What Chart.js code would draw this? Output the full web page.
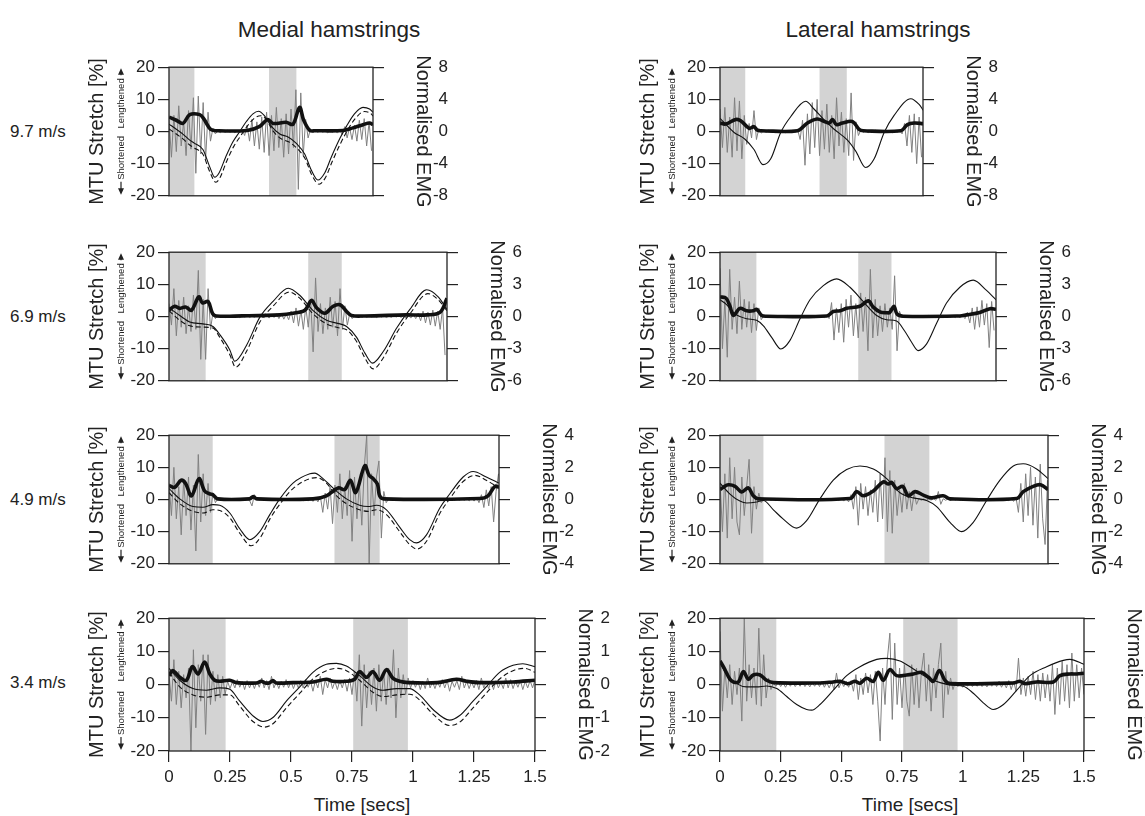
<!DOCTYPE html>
<html>
<head>
<meta charset="utf-8">
<script src="https://cdn.jsdelivr.net/npm/chart.js@4.4.1/dist/chart.umd.min.js"></script>
<style>
  body { margin: 0; background: #fff; width: 1145px; height: 816px; position: relative; overflow: hidden;
         font-family: "Liberation Sans", Arial, Helvetica, sans-serif; color: #222; }
  canvas { position: absolute; }
  .lbl { position: absolute; white-space: nowrap; }
</style>
</head>
<body>
<div class="lbl" style="left:329px;top:30px;font-size:22.5px;transform:translate(-50%,-50%)">Medial hamstrings</div>
<div class="lbl" style="left:878px;top:30px;font-size:22.5px;transform:translate(-50%,-50%)">Lateral hamstrings</div>
<div class="lbl" style="left:362px;top:805px;font-size:19px;transform:translate(-50%,-50%)">Time [secs]</div>
<div class="lbl" style="left:910px;top:805px;font-size:19px;transform:translate(-50%,-50%)">Time [secs]</div>
<script>
// ---- data ----
const speeds = ["9.7 m/s", "6.9 m/s", "4.9 m/s", "3.4 m/s"];
const rowDuration = [0.836, 1.138, 1.352, 1.5];
const emgLimit = [8, 6, 4, 2];
const timeTicks = [0, 0.25, 0.5, 0.75, 1, 1.25, 1.5];
const shadeRows = [
  [[0, 0.104], [0.41, 0.522]],
  [[0, 0.15], [0.57, 0.707]],
  [[0, 0.179], [0.678, 0.863]],
  [[0, 0.232], [0.755, 0.979]]
];
const rawStep = 0.01; // raw EMG sampled every 10 ms

// 9.7 m/s
const medial97Solid = [[0,2.3],[0.03,0.7],[0.057,-0.8],[0.085,-2.7],[0.105,-3.7],[0.139,-5.6],[0.167,-11],[0.187,-14.2],[0.205,-12.9],[0.232,-8],[0.262,-3.2],[0.29,0],[0.317,3.1],[0.344,5.5],[0.367,6.3],[0.39,5],[0.42,1.6],[0.454,-0.8],[0.488,-1.7],[0.522,-3.7],[0.556,-7],[0.583,-12],[0.61,-15.1],[0.638,-12.9],[0.665,-8],[0.7,-2.2],[0.727,1.6],[0.76,5.5],[0.795,7.5],[0.822,7],[0.836,6]];
const medial97Dashed = [[0,0.8],[0.03,-0.8],[0.057,-2.3],[0.085,-4.2],[0.105,-5.2],[0.139,-7.1],[0.167,-12.5],[0.192,-15.8],[0.21,-14.2],[0.235,-9.5],[0.265,-4.7],[0.295,-1.2],[0.32,1.6],[0.348,4],[0.375,4.9],[0.398,3.8],[0.425,0.3],[0.458,-2.2],[0.49,-3.2],[0.524,-5.2],[0.558,-8.5],[0.585,-13.5],[0.615,-16.4],[0.642,-14.2],[0.668,-9.5],[0.703,-3.7],[0.73,0.2],[0.763,4],[0.8,6.2],[0.825,5.7],[0.836,4.8]];
const medial97Env = [[0,1.8],[0.03,1.4],[0.057,1.0],[0.085,2.1],[0.126,2.1],[0.142,1.6],[0.17,0.27],[0.19,0.1],[0.32,0.12],[0.37,0.6],[0.405,1.5],[0.426,1.0],[0.48,1.15],[0.508,0.9],[0.535,3.0],[0.552,1.4],[0.577,0.15],[0.6,0.1],[0.713,0.12],[0.754,0.45],[0.795,0.85],[0.822,1.05],[0.836,0.85]];
const medial97Raw = [1.5,-3.2,2.0,-2.5,3.2,-1.8,1.2,-3.0,2.6,-2.2,4.2,-5.2,4.4,-2.8,3.6,-3.5,2.4,-1.2,0.4,-0.3,
  0.1,-0.15,0.1,-0.1,0.15,-0.1,0.1,-0.15,0.1,-0.1,0.2,
  -0.5,0.8,-1.2,1.5,-1.8,1.2,-2.2,1.8,-2.6,2.4,-3.0,2.0,-2.4,3.0,-2.0,1.6,-3.2,2.2,-2.8,2.8,-2.0,5.2,-7.2,4.8,-3.0,1.5,-0.8,0.3,
  -0.15,0.1,-0.1,0.15,-0.1,0.1,-0.15,0.1,-0.1,0.15,-0.2,0.2,
  -0.4,0.6,-0.8,0.5,-1.0,0.8,-1.2,1.4,-1.0,1.6,-1.8,1.2,-2.4];
const lateral97Solid = [[0,4.1],[0.058,-0.3],[0.103,-2.4],[0.14,-5.6],[0.177,-10.3],[0.209,-8.5],[0.25,-0.3],[0.291,4.6],[0.353,9.4],[0.387,7],[0.429,3.6],[0.47,0.7],[0.525,-2.7],[0.559,-6.1],[0.6,-11.2],[0.635,-8.5],[0.676,-0.3],[0.717,5],[0.786,10.2],[0.82,8.4],[0.838,6.5]];
const lateral97Env = [[0,1.05],[0.023,0.93],[0.065,1.5],[0.085,1.35],[0.12,0.4],[0.14,0.6],[0.154,0.15],[0.17,0.1],[0.319,0.1],[0.36,1.05],[0.40,1.55],[0.43,1.25],[0.45,1.05],[0.463,1.5],[0.48,0.85],[0.504,1.05],[0.545,1.25],[0.573,0.27],[0.59,0.1],[0.745,0.1],[0.772,0.85],[0.8,1.05],[0.838,0.97]];
const lateral97Raw = [2.8,-2.0,3.0,-2.6,1.8,-3.2,4.2,-2.4,3.8,-3.4,2.0,-1.6,1.0,-0.8,2.6,-1.0,0.4,-0.2,
  0.1,-0.1,0.15,-0.1,0.1,-0.15,0.1,-0.1,0.1,-0.15,0.1,-0.1,0.15,-0.1,0.2,
  -1.0,1.4,-4.2,2.2,-2.8,3.6,-2.0,4.0,-3.0,2.6,-2.2,3.4,-2.6,2.0,-3.4,4.2,-1.8,2.4,-2.6,1.6,-3.0,4.8,-3.6,1.2,-0.5,
  0.2,-0.1,0.1,-0.15,0.1,-0.1,0.15,-0.1,0.1,-0.1,0.15,-0.1,0.1,-0.15,0.1,-0.1,0.2,-0.3,
  1.0,-1.8,2.0,-2.6,2.2,-4.0,1.8,-3.2];

// 6.9 m/s
const medial69Solid = [[0,2.7],[0.044,0.3],[0.085,-1.7],[0.139,-2.3],[0.18,-3.1],[0.208,-5.6],[0.249,-10.4],[0.269,-13.9],[0.317,-9],[0.372,-0.2],[0.426,4.7],[0.488,8.8],[0.535,6.6],[0.59,1.8],[0.645,-1.2],[0.7,-2.3],[0.727,-3.1],[0.768,-6.5],[0.802,-11.4],[0.833,-14.5],[0.877,-10.9],[0.932,-3.6],[0.986,2.2],[1.055,8.3],[1.102,6.1],[1.138,2.2]];
const medial69Dashed = [[0,1.8],[0.044,-1.2],[0.085,-2.9],[0.139,-3.3],[0.18,-3.6],[0.208,-6.5],[0.249,-11.9],[0.273,-15.8],[0.317,-10.9],[0.372,-1.7],[0.426,3.2],[0.492,7.6],[0.535,5.7],[0.59,0.8],[0.645,-2.3],[0.7,-3.6],[0.727,-4.1],[0.768,-7.8],[0.802,-12.9],[0.836,-16.3],[0.877,-12.9],[0.932,-5.1],[0.986,0.8],[1.06,7.1],[1.102,5.2],[1.138,1.8]];
const medial69Env = [[0,0.58],[0.023,0.96],[0.044,0.76],[0.068,0.88],[0.092,0.58],[0.122,1.84],[0.137,1.26],[0.16,1.4],[0.178,0.3],[0.194,0.05],[0.3,0.06],[0.454,0.15],[0.508,0.3],[0.556,0.58],[0.583,1.5],[0.604,0.82],[0.638,0.3],[0.672,0.96],[0.7,1.1],[0.727,0.47],[0.747,0.1],[0.8,0.05],[0.973,0.15],[1.055,0.15],[1.109,0.38],[1.138,1.7]];
const medial69Raw = [1.2,-0.8,2.6,-1.8,1.5,-1.0,1.8,-1.6,1.0,-1.4,2.0,-1.2,4.3,-4.0,1.6,-4.0,2.6,-1.2,0.4,-0.2,
  0.1,-0.05,0.08,-0.1,0.05,-0.08,0.1,-0.05,0.08,-0.1,0.1,-0.05,0.08,-0.1,0.05,-0.08,0.1,-0.05,0.08,-0.1,0.1,-0.15,0.2,-0.1,0.25,-0.2,0.3,-0.25,0.2,-0.3,
  0.5,-0.6,0.8,-0.9,0.6,-1.2,0.9,-1.0,1.6,-3.3,3.6,-1.4,1.2,-1.6,0.8,-1.2,1.8,-1.0,1.4,-1.8,2.6,-1.2,1.0,-0.8,0.3,-0.2,
  0.1,-0.05,0.08,-0.1,0.05,-0.08,0.1,-0.05,0.08,-0.1,0.1,-0.05,0.08,-0.1,0.05,-0.08,0.1,-0.05,0.1,-0.1,0.1,-0.15,0.1,-0.15,0.2,-0.2,
  0.3,-0.4,0.5,-0.6,0.4,-0.8,0.6,-0.9,0.5,-1.2,0.8,-3.6];
const lateral69Solid = [[0,5.2],[0.027,3.7],[0.062,0.8],[0.11,-0.7],[0.151,-1.2],[0.179,-2.9],[0.213,-6.5],[0.251,-10.1],[0.288,-7.5],[0.33,-0.7],[0.371,5.2],[0.426,9.6],[0.481,11.7],[0.536,9.1],[0.59,4.7],[0.646,0.3],[0.687,-1],[0.728,-1.4],[0.762,-4.6],[0.79,-8],[0.817,-10.6],[0.852,-8.5],[0.893,-2.1],[0.934,4.2],[0.989,9.1],[1.044,11.3],[1.099,8.1],[1.138,5.2]];
const lateral69Env = [[0,1.84],[0.025,1.7],[0.041,0.96],[0.055,0.1],[0.082,0.76],[0.11,0.53],[0.137,0.53],[0.151,0.67],[0.172,0.1],[0.19,0.03],[0.44,0.05],[0.467,0.47],[0.495,0.53],[0.522,0.76],[0.577,0.96],[0.611,1.46],[0.632,0.88],[0.659,0.44],[0.687,0.35],[0.70,0.38],[0.717,0.96],[0.73,0.23],[0.755,0.03],[0.989,0.05],[1.016,0.15],[1.071,0.38],[1.113,0.73],[1.138,0.67]];
const lateral69Raw = [4.5,-3.0,1.5,-3.8,4.4,-1.2,1.8,-1.6,3.3,-1.2,1.6,-1.0,1.4,-1.5,1.2,-1.3,0.8,-0.3,
  0.05,-0.05,0.08,-0.05,0.05,-0.08,0.05,-0.05,0.08,-0.05,0.1,-0.05,0.05,-0.1,0.08,-0.05,0.05,-0.08,0.05,-0.05,0.08,-0.1,0.1,-0.05,0.1,-0.1,0.15,-0.2,
  1.3,-2.2,0.8,-1.5,1.2,-2.4,1.6,-1.0,2.0,-1.8,1.2,-2.0,2.2,-1.4,1.8,-3.2,4.4,-2.0,1.6,-1.8,1.0,-1.4,1.2,-1.0,0.8,-1.2,3.8,-3.2,0.5,
  -0.1,0.05,-0.05,0.08,-0.05,0.05,-0.08,0.05,-0.05,0.08,-0.05,0.1,-0.05,0.05,-0.1,0.08,-0.05,0.05,-0.08,0.05,-0.05,0.08,-0.1,0.1,-0.1,0.15,-0.2,
  0.4,-0.6,0.8,-1.2,0.9,-1.0,1.5,-0.8,1.2,-2.9,1.4,-1.3];

// 4.9 m/s
const medial49Solid = [[0,3.4],[0.044,0.2],[0.098,-2.2],[0.139,-2.4],[0.18,-1.6],[0.208,-1.8],[0.249,-4.2],[0.29,-9.1],[0.331,-12.5],[0.372,-10],[0.413,-4.7],[0.454,0.2],[0.508,5.1],[0.577,8],[0.597,8.2],[0.631,6.5],[0.686,2.6],[0.727,0.2],[0.781,-1.8],[0.816,-2.2],[0.85,-1.8],[0.891,-3.2],[0.945,-8.6],[0.986,-12.5],[1.014,-13.5],[1.055,-11],[1.109,-2.7],[1.15,1.7],[1.205,7],[1.246,8.7],[1.3,7],[1.352,5.1]];
const medial49Dashed = [[0,2.1],[0.044,-1.3],[0.098,-3.7],[0.139,-4.2],[0.18,-3.2],[0.208,-3.4],[0.249,-5.7],[0.29,-10.5],[0.337,-14.4],[0.377,-11.5],[0.413,-6.1],[0.454,-1.5],[0.508,3.4],[0.604,6.8],[0.645,5.1],[0.686,1.2],[0.727,-1.3],[0.781,-3.2],[0.816,-3.7],[0.85,-3.2],[0.891,-4.7],[0.945,-10],[0.986,-14],[1.016,-15.4],[1.055,-13],[1.109,-4.4],[1.15,0.2],[1.205,5.6],[1.253,7.5],[1.3,6],[1.352,3.6]];
const medial49Env = [[0,0.88],[0.023,0.76],[0.05,1.2],[0.068,1.0],[0.092,0.23],[0.123,1.3],[0.146,0.53],[0.171,0.33],[0.18,0.3],[0.2,0.04],[0.33,0.04],[0.345,0.18],[0.36,0.04],[0.59,0.04],[0.645,0.23],[0.693,0.72],[0.72,0.62],[0.743,1.2],[0.765,0.43],[0.802,2.1],[0.82,1.5],[0.836,1.3],[0.854,0.96],[0.863,0.23],[0.88,0.04],[1.273,0.06],[1.307,0.23],[1.335,0.82],[1.352,0.76]];
const medial49Raw = [1.0,-1.0,2.0,-1.2,0.8,-2.2,1.2,-1.0,1.4,-1.9,0.9,-3.2,2.8,-1.4,1.6,-1.0,1.0,-0.8,0.4,-0.2,
  0.05,-0.05,0.04,-0.06,0.05,-0.04,0.06,-0.05,0.04,-0.05,0.05,-0.05,0.04,-0.06,-0.4,0.3,0.05,-0.04,0.06,-0.05,0.04,-0.05,0.05,-0.05,0.04,-0.06,0.05,-0.04,0.06,-0.05,0.04,-0.05,0.05,-0.05,0.06,-0.08,0.08,-0.1,0.1,-0.12,0.15,-0.15,0.2,-0.8,
  0.4,-0.6,0.8,-1.5,0.9,-0.8,1.6,-1.2,0.8,-1.0,1.8,-2.6,1.4,-1.2,1.0,-1.6,2.0,4.0,-4.0,1.6,-1.0,1.4,2.4,-2.4,0.5,-0.2,
  0.05,-0.05,0.04,-0.06,0.05,-0.04,0.06,-0.05,0.04,-0.05,0.05,-0.05,0.04,-0.06,0.05,-0.04,0.06,-0.05,0.04,-0.05,0.05,-0.05,0.04,-0.06,0.05,-0.04,0.06,-0.05,0.04,-0.05,0.05,-0.05,0.06,-0.08,0.1,-0.1,0.15,-0.2,
  0.3,-0.5,0.6,-0.4,0.8,-1.4,0.5,1.6];
const lateral49Solid = [[0,5.1],[0.041,1.7],[0.082,-0.5],[0.11,-1.1],[0.151,-0.8],[0.179,-0.3],[0.22,-3.2],[0.261,-6.1],[0.316,-8.9],[0.357,-6.6],[0.412,0.2],[0.467,6],[0.522,9.3],[0.577,10.4],[0.632,9.5],[0.687,6.5],[0.742,2.1],[0.797,0.5],[0.852,-0.3],[0.893,-2.2],[0.948,-7.1],[0.996,-10],[1.044,-7.1],[1.099,-0.3],[1.154,6],[1.209,10.4],[1.25,11.1],[1.305,9.5],[1.352,6.5]];
const lateral49Env = [[0,0.62],[0.014,0.76],[0.034,0.92],[0.062,0.82],[0.089,0.47],[0.117,0.72],[0.137,0.23],[0.158,0.04],[0.536,0.06],[0.563,0.49],[0.59,0.23],[0.632,0.53],[0.673,1.1],[0.694,0.96],[0.707,1.07],[0.728,0.68],[0.753,0.82],[0.776,0.23],[0.804,0.49],[0.838,0.27],[0.872,0.1],[0.92,0.23],[0.948,0.04],[1.223,0.06],[1.25,0.49],[1.291,0.82],[1.321,0.92],[1.352,0.62]];
const lateral49Raw = [1.2,-2.0,1.6,-2.4,2.6,-1.2,2.0,-1.4,-2.2,1.4,-1.0,0.8,2.5,-2.1,0.8,-0.6,0.4,-0.2,
  0.04,-0.04,0.05,-0.05,0.04,-0.06,0.05,-0.04,0.04,-0.05,0.05,-0.04,0.06,-0.05,0.04,-0.04,0.05,-0.05,0.04,-0.06,0.05,-0.04,0.04,-0.05,0.05,-0.04,0.06,-0.05,0.04,-0.04,0.05,-0.06,0.08,-0.1,0.1,-0.15,
  0.3,-0.6,0.8,-1.6,1.0,-0.6,0.8,-1.0,0.6,-0.8,1.2,-1.4,1.6,-1.2,2.6,-2.0,1.8,-2.1,1.2,-1.0,0.6,-0.8,1.0,-0.6,0.5,-0.7,0.4,-0.3,
  0.05,-0.05,0.04,-0.06,0.05,-0.04,0.06,-0.05,0.5,-0.3,0.05,-0.05,0.04,-0.06,0.05,-0.04,0.06,-0.05,0.04,-0.05,0.05,-0.05,0.04,-0.06,0.05,-0.04,0.06,-0.05,0.04,-0.05,0.05,-0.05,0.04,-0.06,0.05,-0.04,0.06,-0.08,0.1,-0.12,0.15,
  -0.8,1.0,-1.4,1.6,-1.0,2.0,-1.6,1.4,-2.4,2.2,-1.2,-2.8,1.2];

// 3.4 m/s
const medial34Solid = [[0,4.9],[0.044,1.3],[0.098,-1.2],[0.153,-1.7],[0.208,-1],[0.249,-1.4],[0.29,-5],[0.344,-9.4],[0.385,-11.1],[0.426,-9.9],[0.481,-5],[0.536,-0.7],[0.59,3.7],[0.645,6.1],[0.686,6.4],[0.727,5.6],[0.781,2.7],[0.836,-0.7],[0.877,-1.7],[0.932,-1.2],[0.986,-1.2],[1.027,-3.1],[1.082,-7.5],[1.15,-10.7],[1.19,-9.4],[1.246,-5],[1.3,-0.7],[1.355,3.7],[1.41,5.8],[1.45,6.3],[1.5,5.4]];
const medial34Dashed = [[0,3.7],[0.044,-0.7],[0.098,-3.1],[0.153,-3.8],[0.208,-3.1],[0.249,-3.1],[0.29,-6.5],[0.344,-11.1],[0.392,-12.8],[0.426,-11.8],[0.481,-7],[0.536,-2.6],[0.59,1.7],[0.645,4.2],[0.693,4.9],[0.727,4.2],[0.781,1.3],[0.836,-2.3],[0.877,-3.6],[0.932,-3.1],[0.986,-2.9],[1.027,-4.6],[1.082,-8.9],[1.15,-12.3],[1.19,-11.4],[1.246,-7],[1.3,-2.6],[1.355,1.7],[1.41,4.2],[1.458,4.9],[1.5,3.7]];
const medial34Env = [[0,0.27],[0.016,0.42],[0.044,0.22],[0.071,0.13],[0.096,0.54],[0.119,0.32],[0.146,0.68],[0.167,0.32],[0.187,0.13],[0.208,0.1],[0.249,0.13],[0.276,0.06],[0.36,0.05],[0.378,0.1],[0.395,0.05],[0.41,0.05],[0.426,0.12],[0.44,0.05],[0.508,0.06],[0.59,0.08],[0.645,0.16],[0.672,0.1],[0.727,0.1],[0.761,0.16],[0.781,0.39],[0.809,0.22],[0.836,0.39],[0.863,0.13],[0.891,0.45],[0.918,0.19],[0.945,0.1],[0.98,0.06],[1.1,0.06],[1.178,0.16],[1.219,0.1],[1.273,0.06],[1.41,0.08],[1.5,0.13]];
const medial34Raw = [0.3,-0.5,0.75,-0.6,0.4,-0.7,0.3,-0.4,0.5,-2.0,1.05,-1.3,0.6,-0.5,0.9,-1.5,0.9,-0.6,0.4,-0.5,0.3,-0.4,0.25,-0.3,
  0.1,-0.12,0.08,-0.1,0.15,-0.08,0.1,-0.15,0.12,-0.1,0.08,-0.12,0.1,-0.08,0.2,-0.1,0.12,-0.15,0.25,-0.1,0.08,-0.12,0.1,-0.08,0.15,-0.1,0.1,-0.12,0.08,-0.1,0.12,-0.1,0.15,-0.08,0.1,-0.2,0.12,-0.1,0.25,-0.3,0.15,-0.1,0.2,-0.12,0.1,-0.15,0.12,-0.1,0.15,-0.2,0.2,
  -0.3,0.4,-0.5,0.9,-1.25,0.6,-0.7,0.4,-0.6,0.5,-0.8,0.6,-0.5,0.4,-0.6,0.5,-0.4,1.05,-1.0,0.5,-0.4,0.3,-0.3,0.2,
  -0.1,0.12,-0.08,0.1,-0.15,0.1,-0.12,0.2,-0.1,0.08,-0.12,0.1,-0.08,0.15,-0.1,0.12,-0.2,0.1,-0.08,0.12,-0.15,0.25,-0.1,0.1,-0.12,0.08,-0.1,0.12,-0.15,0.2,-0.1,0.08,-0.12,0.1,-0.15,0.12,-0.1,0.08,-0.12,0.2,-0.1,0.15,-0.12,0.1,-0.08,0.12,-0.15,0.1,-0.1,0.12,-0.1,0.15];
const lateral34Solid = [[0,6.6],[0.027,3.2],[0.069,0.3],[0.11,-0.7],[0.151,-0.7],[0.192,-0.4],[0.234,-1.2],[0.275,-3.6],[0.316,-6],[0.357,-7.5],[0.378,-7.7],[0.412,-6],[0.467,-1.7],[0.522,2.7],[0.577,5.4],[0.646,7.6],[0.687,7.9],[0.742,7.1],[0.797,4.7],[0.852,2.2],[0.907,0.6],[0.962,-0.2],[1.003,-0.5],[1.044,-2.6],[1.085,-5.5],[1.126,-7.5],[1.168,-6],[1.223,-1.7],[1.277,2.7],[1.346,5.4],[1.415,7.3],[1.442,7.6],[1.5,6.1]];
const lateral34Env = [[0,0.71],[0.016,0.51],[0.041,0.16],[0.055,0.08],[0.076,0.08],[0.096,0.39],[0.117,0.16],[0.137,0.29],[0.165,0.29],[0.192,0.13],[0.22,0.06],[0.412,0.05],[0.467,0.08],[0.495,0.1],[0.522,0.03],[0.536,0.04],[0.556,0.1],[0.577,0.04],[0.604,0.19],[0.632,0.1],[0.652,0.37],[0.673,0.13],[0.7,0.45],[0.728,0.27],[0.769,0.29],[0.797,0.32],[0.831,0.37],[0.859,0.22],[0.879,0.1],[0.904,0.42],[0.927,0.13],[0.948,0.03],[1.209,0.05],[1.236,0.1],[1.257,0.03],[1.305,0.08],[1.374,0.08],[1.401,0.27],[1.442,0.32],[1.47,0.32],[1.5,0.34]];
const lateral34Raw = [1.6,-0.8,0.5,-0.4,0.6,-0.6,0.4,-0.3,0.5,-1.1,2.0,-0.5,0.6,-0.4,0.5,-0.6,1.7,-0.65,0.9,-0.4,0.2,-0.15,
  0.06,-0.05,0.08,-0.06,0.05,-0.08,0.06,-0.05,0.07,-0.06,0.05,-0.05,0.08,-0.06,0.05,-0.07,0.06,-0.05,0.08,-0.06,0.1,-0.08,0.06,-0.1,0.08,-0.15,0.35,-0.1,0.08,-0.06,0.1,-0.08,0.12,
  -0.2,0.3,-0.45,0.2,-0.3,0.35,-0.25,0.3,-0.6,0.4,-0.5,-1.7,0.5,-0.6,0.8,1.55,-1.05,1.25,-0.6,0.5,-0.7,0.6,-0.5,-0.95,0.6,-0.6,0.5,-0.7,0.4,0.95,-0.5,0.6,-0.8,0.5,-0.4,0.6,1.25,-1.0,0.4,-0.3,0.2,-0.15,
  0.08,-0.06,0.05,-0.08,0.06,-0.05,0.07,-0.06,0.05,-0.05,0.08,-0.06,0.05,-0.07,0.06,-0.05,0.08,-0.06,0.1,-0.08,0.06,-0.1,0.12,-0.15,0.1,
  -0.2,0.8,-0.3,0.2,-0.35,0.25,-0.3,0.4,-0.45,0.3,-0.5,0.35,-0.4,0.3,-0.5,0.6,-0.9,0.5,-0.6,0.7,-0.5,0.6,-0.7,0.95,-0.5,0.6,-0.4,0.5,-0.3];

// ---- layout ----
const plotTop = [63, 248, 431, 614];
const plotHeight = 137;
const columnAxisX = [169, 720];
const pxPerSec = [244, 242.7];
const leftW = 100, rightW = 75, padTop = 12;

const panels = [
  { col: 0, row: 0, solid: medial97Solid, dashed: medial97Dashed, env: medial97Env, raw: medial97Raw },
  { col: 1, row: 0, solid: lateral97Solid, env: lateral97Env, raw: lateral97Raw },
  { col: 0, row: 1, solid: medial69Solid, dashed: medial69Dashed, env: medial69Env, raw: medial69Raw },
  { col: 1, row: 1, solid: lateral69Solid, env: lateral69Env, raw: lateral69Raw },
  { col: 0, row: 2, solid: medial49Solid, dashed: medial49Dashed, env: medial49Env, raw: medial49Raw },
  { col: 1, row: 2, solid: lateral49Solid, env: lateral49Env, raw: lateral49Raw },
  { col: 0, row: 3, solid: medial34Solid, dashed: medial34Dashed, env: medial34Env, raw: medial34Raw },
  { col: 1, row: 3, solid: lateral34Solid, env: lateral34Env, raw: lateral34Raw }
];

Chart.defaults.font.family = '"Liberation Sans", Arial, Helvetica, sans-serif';
Chart.defaults.color = '#222';

const toPoints = (pairs) => pairs.map(([t, v]) => ({ x: t, y: v }));
const rawPoints = (vals) => vals.map((v, i) => ({ x: +(i * rawStep).toFixed(2), y: v }));

function arrow(ctx, x, yFrom, yTo) {
  const dir = Math.sign(yTo - yFrom);
  ctx.beginPath();
  ctx.moveTo(x, yFrom);
  ctx.lineTo(x, yTo - dir * 5);
  ctx.stroke();
  ctx.beginPath();
  ctx.moveTo(x, yTo);
  ctx.lineTo(x - 3, yTo - dir * 6.5);
  ctx.lineTo(x + 3, yTo - dir * 6.5);
  ctx.closePath();
  ctx.fill();
}

// shaded stance windows, box frame and the small direction labels
const framePlugin = {
  id: 'frame',
  beforeDatasetsDraw(chart, args, opts) {
    const { ctx, chartArea: a, scales: { x } } = chart;
    ctx.save();
    ctx.fillStyle = '#d3d3d3';
    opts.shade.forEach(([s, e]) => {
      const x0 = x.getPixelForValue(s), x1 = x.getPixelForValue(e);
      ctx.fillRect(x0, a.top, x1 - x0, a.bottom - a.top);
    });
    ctx.restore();
  },
  afterDraw(chart) {
    const { ctx, chartArea: a, scales: { y } } = chart;
    ctx.save();
    ctx.strokeStyle = '#222';
    ctx.lineWidth = 1.3;
    ctx.strokeRect(a.left, a.top, a.right - a.left, a.bottom - a.top);

    const xl = a.left - 48;
    const zero = y.getPixelForValue(0);
    ctx.fillStyle = '#222';
    ctx.lineWidth = 1.2;
    ctx.font = '9.5px "Liberation Sans", Arial, sans-serif';
    ctx.textBaseline = 'middle';
    ctx.textAlign = 'left';
    ctx.save();
    ctx.translate(xl, zero - 3);
    ctx.rotate(-Math.PI / 2);
    ctx.fillText('Lengthened', 0, 0);
    const wL = ctx.measureText('Lengthened').width;
    ctx.restore();
    arrow(ctx, xl, zero - 3 - wL - 3, a.top + 1);
    ctx.save();
    ctx.translate(xl, a.bottom - 16);
    ctx.rotate(-Math.PI / 2);
    ctx.fillText('Shortened', 0, 0);
    ctx.restore();
    arrow(ctx, xl, a.bottom - 14, a.bottom - 1);
    ctx.restore();
  }
};

panels.forEach((p) => {
  const plotW = Math.round(rowDuration[p.row] * pxPerSec[p.col]);
  const bottom = p.row === 3;
  const bottomH = bottom ? 65 : 12;
  const canvas = document.createElement('canvas');
  canvas.width = leftW + plotW + rightW;
  canvas.height = padTop + plotHeight + bottomH;
  canvas.style.left = (columnAxisX[p.col] - leftW) + 'px';
  canvas.style.top = (plotTop[p.row] - padTop) + 'px';
  document.body.appendChild(canvas);

  const datasets = [
    { data: toPoints(p.env), yAxisID: 'y2', borderColor: '#111', borderWidth: 3.6, tension: 0.35, order: 0 },
    { data: toPoints(p.solid), yAxisID: 'y', borderColor: '#111', borderWidth: 1.1, cubicInterpolationMode: 'monotone', order: 1 }
  ];
  if (p.dashed) {
    datasets.push({ data: toPoints(p.dashed), yAxisID: 'y', borderColor: '#111', borderWidth: 1.1, borderDash: [5, 3], cubicInterpolationMode: 'monotone', order: 2 });
  }
  datasets.push({ data: rawPoints(p.raw), yAxisID: 'y2', borderColor: '#808080', borderWidth: 1, tension: 0, order: 3 });

  const lim = emgLimit[p.row];
  new Chart(canvas, {
    type: 'line',
    data: { datasets },
    plugins: [framePlugin],
    options: {
      responsive: false,
      animation: false,
      devicePixelRatio: 1,
      layout: { padding: { left: 0, right: 0, top: padTop, bottom: 0 } },
      elements: { point: { radius: 0 } },
      plugins: { legend: { display: false }, tooltip: { enabled: false }, frame: { shade: shadeRows[p.row] } },
      scales: {
        x: {
          type: 'linear', min: 0, max: rowDuration[p.row],
          border: { display: false },
          grid: { display: bottom, drawOnChartArea: false, drawTicks: bottom, tickLength: 11, color: '#222', lineWidth: 1.2 },
          ticks: {
            display: bottom, stepSize: 0.25, padding: 5, maxRotation: 0,
            font: { size: 17 }, color: '#222',
            callback: (v) => timeTicks.includes(v) ? String(v) : ''
          },
          afterFit: (s) => { s.height = bottomH; }
        },
        y: {
          position: 'left', min: -20, max: 20,
          border: { display: false },
          grid: { drawOnChartArea: false, tickLength: 11, color: '#222', lineWidth: 1.2 },
          ticks: { stepSize: 10, padding: 3, font: { size: 17 }, color: '#222' },
          title: { display: true, text: 'MTU Stretch [%]', font: { size: 20 }, color: '#222', padding: { top: 16, bottom: 0 } },
          afterFit: (s) => { s.width = leftW; }
        },
        y2: {
          position: 'right', min: -lim, max: lim,
          border: { display: false },
          grid: { drawOnChartArea: false, tickLength: 11, color: '#222', lineWidth: 1.2 },
          ticks: { stepSize: lim / 2, padding: 6, crossAlign: 'far', font: { size: 17 }, color: '#222' },
          title: { display: true, text: 'Normalised EMG', font: { size: 20 }, color: '#222', padding: { top: 13, bottom: 0 } },
          afterFit: (s) => { s.width = rightW; }
        }
      }
    }
  });
});

speeds.forEach((s, i) => {
  const d = document.createElement('div');
  d.className = 'lbl';
  d.textContent = s;
  d.style.cssText = `left:10px;top:${plotTop[i] + plotHeight / 2}px;font-size:17px;transform:translateY(-50%)`;
  document.body.appendChild(d);
});
</script>
</body>
</html>
